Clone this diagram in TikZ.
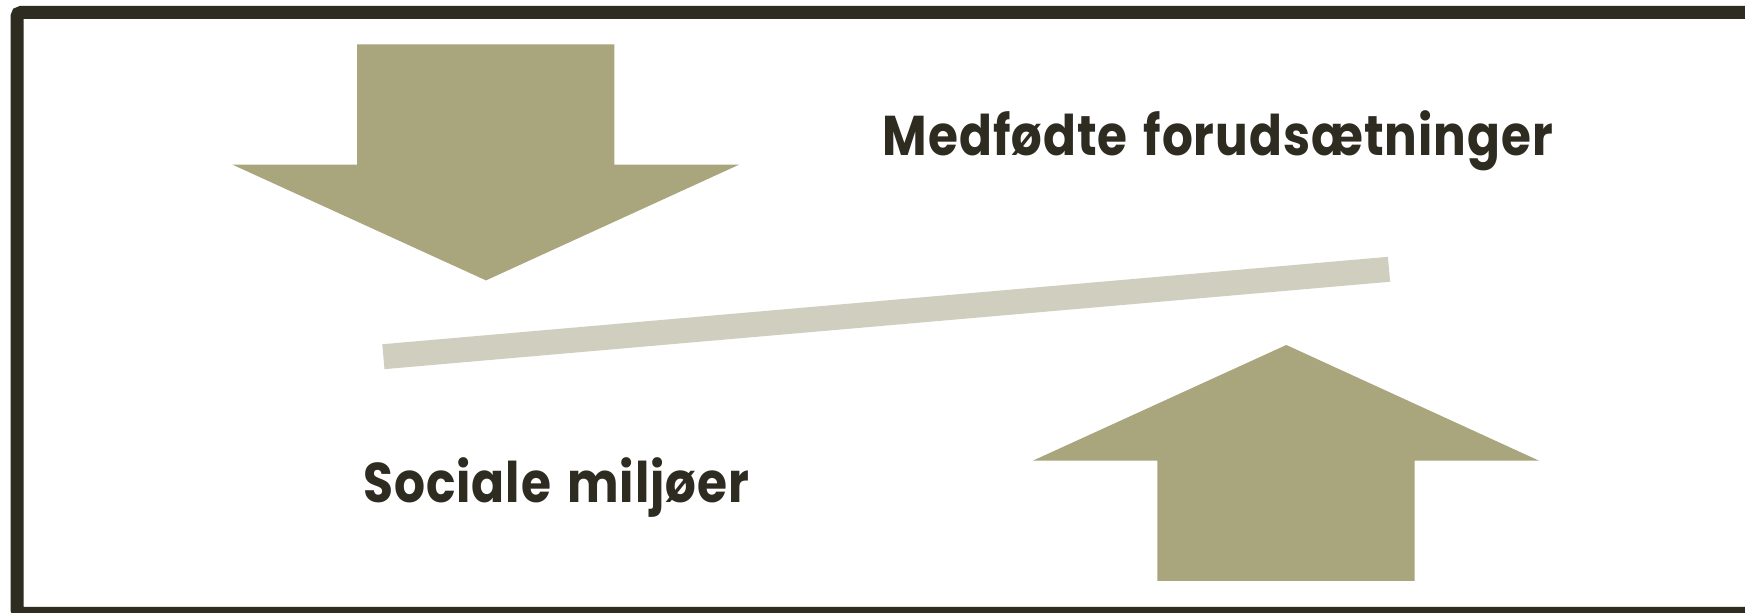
\documentclass[tikz,border=0pt]{standalone}
\usepackage{fontspec}
\setmainfont{Poppins}[LetterSpace=2]
\definecolor{olive}{HTML}{A9A57C}
\definecolor{bandgrey}{HTML}{D0CEBE}
\definecolor{darktxt}{HTML}{2E2B20}
\tikzset{
  frame/.style={draw=darktxt, line width=6.5pt, rounded corners=2pt},
  bigarrow/.style={fill=olive, draw=none},
  band/.style={draw=bandgrey, line width=12.5pt, line cap=butt},
  label/.style={text=darktxt, inner sep=0pt, anchor=base west, font=\bfseries\fontsize{28}{28}\selectfont}
}
\begin{document}
\begin{tikzpicture}[x=0.5pt,y=-0.5pt]
\useasboundingbox (0,0) rectangle (1745,613);
\clip (0,0) rectangle (1745,613);
\fill[white] (0,0) rectangle (1745,613);
\draw[frame] (17,12.5) rectangle (1780,613.5);
% down arrow
\fill[bigarrow] (357.2,44.5) -- (614.3,44.5) -- (614.3,164.7) -- (739,164.7) -- (486,280.4) -- (232.6,164.7) -- (357.2,164.7) -- cycle;
% up arrow
\fill[bigarrow] (1157.4,581) -- (1414.5,581) -- (1414.5,460.7) -- (1539,460.7) -- (1286.3,345) -- (1032.8,460.7) -- (1157.4,460.7) -- cycle;
% band
\coordinate (bl) at (383.4,356.7);
\coordinate (br) at (1389,269.3);
\draw[band] (bl) -- (br);
\node[label] (medf) at (882.5,156) {\resizebox{335pt}{\height}{Medfødte\hspace{0.1em} forudsætninger}};
\node[label] (soc) at (362.8,503) {\resizebox{193pt}{\height}{Sociale\hspace{0.1em} miljøer}};
\end{tikzpicture}
\end{document}
